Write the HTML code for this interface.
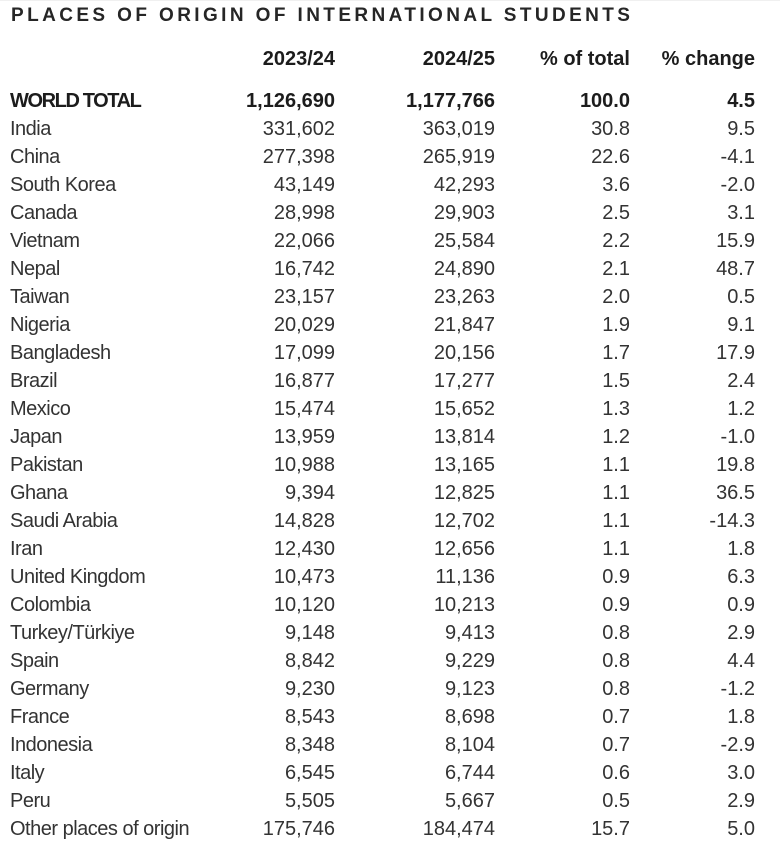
<!DOCTYPE html>
<html><head><meta charset="utf-8">
<style>
html,body{margin:0;padding:0;background:#fff;}
body{width:780px;height:846px;position:relative;overflow:hidden;font-family:"Liberation Sans",Arial,sans-serif;color:#333;}
.topline{position:absolute;left:0;top:0;width:780px;height:1px;background:#f0f0f0;}
.title{position:absolute;left:11px;top:2px;height:28px;line-height:28px;font-size:19px;font-weight:bold;letter-spacing:3.4px;color:#262626;white-space:nowrap;}
.row{position:absolute;left:0;width:780px;height:28px;line-height:28px;font-size:20px;white-space:nowrap;}
.row div{position:absolute;top:0;}
.l{left:10px;letter-spacing:-0.5px;}
.c1{right:445px;text-align:right;}
.c2{right:285px;text-align:right;}
.c3{right:150px;text-align:right;}
.c4{right:25px;text-align:right;}
.b{font-weight:bold;color:#1c1c1c;}
.b .l{letter-spacing:-1.4px;}
</style></head><body>
<div class="topline"></div>
<div class="title">PLACES OF ORIGIN OF INTERNATIONAL STUDENTS</div>
<div class="row b" style="top:45px"><div class="c1">2023/24</div><div class="c2">2024/25</div><div class="c3">% of total</div><div class="c4">% change</div></div>
<div class="row b" style="top:87px"><div class="l">WORLD TOTAL</div><div class="c1">1,126,690</div><div class="c2">1,177,766</div><div class="c3">100.0</div><div class="c4">4.5</div></div>
<div class="row" style="top:115px"><div class="l">India</div><div class="c1">331,602</div><div class="c2">363,019</div><div class="c3">30.8</div><div class="c4">9.5</div></div>
<div class="row" style="top:143px"><div class="l">China</div><div class="c1">277,398</div><div class="c2">265,919</div><div class="c3">22.6</div><div class="c4">-4.1</div></div>
<div class="row" style="top:171px"><div class="l">South Korea</div><div class="c1">43,149</div><div class="c2">42,293</div><div class="c3">3.6</div><div class="c4">-2.0</div></div>
<div class="row" style="top:199px"><div class="l">Canada</div><div class="c1">28,998</div><div class="c2">29,903</div><div class="c3">2.5</div><div class="c4">3.1</div></div>
<div class="row" style="top:227px"><div class="l">Vietnam</div><div class="c1">22,066</div><div class="c2">25,584</div><div class="c3">2.2</div><div class="c4">15.9</div></div>
<div class="row" style="top:255px"><div class="l">Nepal</div><div class="c1">16,742</div><div class="c2">24,890</div><div class="c3">2.1</div><div class="c4">48.7</div></div>
<div class="row" style="top:283px"><div class="l">Taiwan</div><div class="c1">23,157</div><div class="c2">23,263</div><div class="c3">2.0</div><div class="c4">0.5</div></div>
<div class="row" style="top:311px"><div class="l">Nigeria</div><div class="c1">20,029</div><div class="c2">21,847</div><div class="c3">1.9</div><div class="c4">9.1</div></div>
<div class="row" style="top:339px"><div class="l">Bangladesh</div><div class="c1">17,099</div><div class="c2">20,156</div><div class="c3">1.7</div><div class="c4">17.9</div></div>
<div class="row" style="top:367px"><div class="l">Brazil</div><div class="c1">16,877</div><div class="c2">17,277</div><div class="c3">1.5</div><div class="c4">2.4</div></div>
<div class="row" style="top:395px"><div class="l">Mexico</div><div class="c1">15,474</div><div class="c2">15,652</div><div class="c3">1.3</div><div class="c4">1.2</div></div>
<div class="row" style="top:423px"><div class="l">Japan</div><div class="c1">13,959</div><div class="c2">13,814</div><div class="c3">1.2</div><div class="c4">-1.0</div></div>
<div class="row" style="top:451px"><div class="l">Pakistan</div><div class="c1">10,988</div><div class="c2">13,165</div><div class="c3">1.1</div><div class="c4">19.8</div></div>
<div class="row" style="top:479px"><div class="l">Ghana</div><div class="c1">9,394</div><div class="c2">12,825</div><div class="c3">1.1</div><div class="c4">36.5</div></div>
<div class="row" style="top:507px"><div class="l">Saudi Arabia</div><div class="c1">14,828</div><div class="c2">12,702</div><div class="c3">1.1</div><div class="c4">-14.3</div></div>
<div class="row" style="top:535px"><div class="l">Iran</div><div class="c1">12,430</div><div class="c2">12,656</div><div class="c3">1.1</div><div class="c4">1.8</div></div>
<div class="row" style="top:563px"><div class="l">United Kingdom</div><div class="c1">10,473</div><div class="c2">11,136</div><div class="c3">0.9</div><div class="c4">6.3</div></div>
<div class="row" style="top:591px"><div class="l">Colombia</div><div class="c1">10,120</div><div class="c2">10,213</div><div class="c3">0.9</div><div class="c4">0.9</div></div>
<div class="row" style="top:619px"><div class="l">Turkey/Türkiye</div><div class="c1">9,148</div><div class="c2">9,413</div><div class="c3">0.8</div><div class="c4">2.9</div></div>
<div class="row" style="top:647px"><div class="l">Spain</div><div class="c1">8,842</div><div class="c2">9,229</div><div class="c3">0.8</div><div class="c4">4.4</div></div>
<div class="row" style="top:675px"><div class="l">Germany</div><div class="c1">9,230</div><div class="c2">9,123</div><div class="c3">0.8</div><div class="c4">-1.2</div></div>
<div class="row" style="top:703px"><div class="l">France</div><div class="c1">8,543</div><div class="c2">8,698</div><div class="c3">0.7</div><div class="c4">1.8</div></div>
<div class="row" style="top:731px"><div class="l">Indonesia</div><div class="c1">8,348</div><div class="c2">8,104</div><div class="c3">0.7</div><div class="c4">-2.9</div></div>
<div class="row" style="top:759px"><div class="l">Italy</div><div class="c1">6,545</div><div class="c2">6,744</div><div class="c3">0.6</div><div class="c4">3.0</div></div>
<div class="row" style="top:787px"><div class="l">Peru</div><div class="c1">5,505</div><div class="c2">5,667</div><div class="c3">0.5</div><div class="c4">2.9</div></div>
<div class="row" style="top:815px"><div class="l">Other places of origin</div><div class="c1">175,746</div><div class="c2">184,474</div><div class="c3">15.7</div><div class="c4">5.0</div></div>
</body></html>
